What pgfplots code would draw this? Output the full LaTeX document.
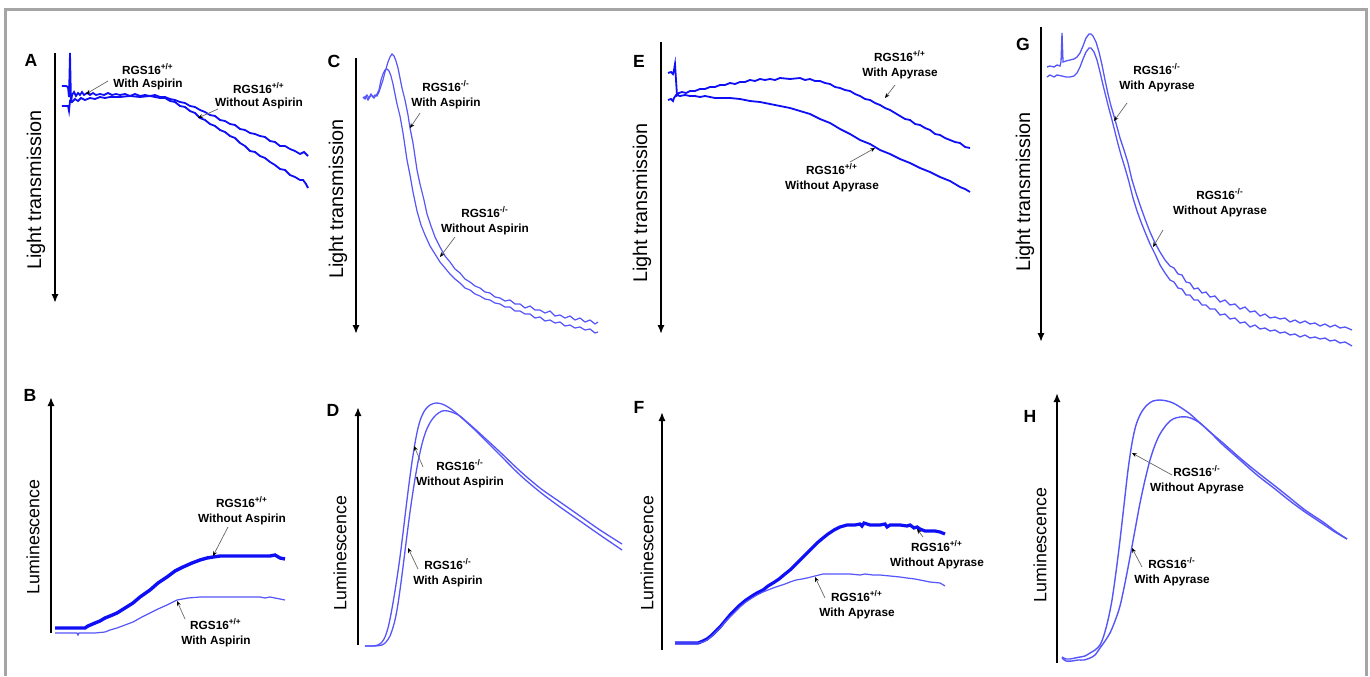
\documentclass[border=0pt]{standalone}
\usepackage{fontspec}
\setmainfont{Liberation Sans}
\usepackage{pgfplots}
\pgfplotsset{compat=1.18}
\usetikzlibrary{arrows.meta}

\definecolor{tb}{RGB}{15,15,245}
\definecolor{lb}{RGB}{85,85,250}
\definecolor{frame}{RGB}{165,165,165}

\newcommand{\LT}{\fontsize{9.9}{11}\selectfont}
\newcommand{\LU}{\fontsize{8.9}{10}\selectfont}
\newcommand{\RP}{RGS16\textsuperscript{+/+}}
\newcommand{\RM}{RGS16\textsuperscript{-/-}}

\pgfplotsset{
  panel/.style={scale only axis, clip=false, anchor=north west, y dir=reverse,
    axis x line=none, axis y line=left, xtick=\empty, ytick=\empty,
    y axis line style={line width=1pt}},
  down/.style={y axis line style={-{Latex[length=4.5pt,width=3.6pt]}}},
  up/.style={y axis line style={{Latex[length=4.5pt,width=3.6pt]}-}},
}
\tikzset{
  ann/.style={font=\fontsize{5.9}{7.4}\selectfont\bfseries, align=center, inner sep=0pt},
  pt/.style={draw=black!60, line width=0.35pt, -{Stealth[length=2.4pt,width=2pt,black]}},
  letter/.style={font=\fontsize{8.8}{10}\selectfont\bfseries},
}

\begin{document}
\begin{tikzpicture}
\useasboundingbox (0,0) rectangle (685pt,338pt);

% ---- A ----
\begin{axis}[panel, down, at={(27.5pt,311.5pt)}, width=127.5pt, height=125pt,
  xmin=55, xmax=310, ymin=53, ymax=303,
  ylabel={Light transmission},
  every axis y label/.style={at={(axis description cs:-0.0745,0.452)}, rotate=90, anchor=center, font=\LT}]
\addplot[tb, line width=0.9pt] coordinates {
(62,86) (66,86) (68,87) (69,97) (70,53) (71,103) (72,95) (74,92) (76,96) (78,93) (80,95) (82,92) (84,95) (87,93) (90,95) (93,93) (96,95) (100,94) (104,95) (108,93) (112,95) (116,94) (120,95) (125,94) (130,96) (135,94) (140,96) (145,95) (150,96) (155,95) (160,97) (165,97) (170,99) (175,100) (180,102) (185,103) (190,106) (195,107) (200,110) (205,112) (210,115) (215,116) (220,120) (225,121) (230,124) (235,125) (240,129) (245,130) (250,133) (255,134) (260,136) (265,137) (270,141) (275,142) (280,146) (285,146) (290,149) (295,151) (300,154) (304,152) (308,156)};
\addplot[tb, line width=0.9pt] coordinates {
(62,106) (66,106) (68,106) (69,111) (70,101) (72,102) (75,99) (78,101) (81,98) (85,100) (90,98) (95,99) (100,97) (105,98) (110,97) (120,97) (130,96) (140,97) (150,96) (160,98) (165,98) (170,101) (175,102) (180,106) (185,107) (190,111) (195,113) (200,118) (205,120) (210,124) (215,126) (220,130) (225,132) (230,136) (235,138) (240,143) (245,146) (250,151) (255,152) (260,156) (265,158) (270,162) (275,165) (280,169) (285,170) (290,175) (295,177) (300,180) (303,180) (306,184) (308,188)};
\node[letter] at (axis cs:31,60) {A};
\node[ann, font=\fontsize{5.9}{6.4}\selectfont\bfseries] at (axis cs:148,77) {\RP\\With Aspirin};
\draw[pt] (axis cs:108,81) -- (axis cs:86,94);
\node[ann, font=\fontsize{5.9}{6.4}\selectfont\bfseries] at (axis cs:259,96) {\RP\\Without Aspirin};
\draw[pt] (axis cs:218,109) -- (axis cs:198,118);
\end{axis}

% ---- B ----
\begin{axis}[panel, up, at={(25.5pt,139.5pt)}, width=119.5pt, height=118pt,
  xmin=51, xmax=290, ymin=397, ymax=633,
  ylabel={Luminescence},
  every axis y label/.style={at={(axis description cs:-0.075,0.407)}, rotate=90, anchor=center, font=\LU}]
\addplot[tb, line width=1.7pt] coordinates {
(55,628) (70,628) (85,628) (88,626) (95,623) (100,621) (105,618) (110,616) (117,613) (125,608) (133,603) (140,597) (150,590) (158,583) (167,577) (175,571) (183,567) (192,563) (200,560) (207,558) (213,557) (220,556) (240,556) (260,556) (270,556) (275,555) (280,558) (285,559)};
\addplot[lb, line width=0.6pt] coordinates {
(55,633) (65,633) (77,633) (78,635) (79,633) (95,633) (105,632) (110,630) (117,628) (125,625) (133,622) (142,617) (150,613) (158,609) (167,605) (177,600) (188,598) (200,597) (215,597) (233,597) (250,597) (260,597) (265,598) (270,597) (285,600)};
\node[letter] at (axis cs:30,395) {B};
\node[ann] at (axis cs:242,511) {\RP\\Without Aspirin};
\draw[pt] (axis cs:228,527) -- (axis cs:213,556);
\node[ann] at (axis cs:216,633) {\RP\\With Aspirin};
\draw[pt] (axis cs:185,619) -- (axis cs:177,601);
\end{axis}

% ---- C ----
\begin{axis}[panel, down, at={(178pt,309pt)}, width=122pt, height=138pt,
  xmin=356, xmax=600, ymin=58, ymax=334,
  ylabel={Light transmission},
  every axis y label/.style={at={(axis description cs:-0.074,0.489)}, rotate=90, anchor=center, font=\LT}]
\addplot[lb, line width=0.6pt] coordinates {
(363,97) (365,99) (367,95) (369,98) (371,94) (373,97) (375,95) (377,96) (379,92) (381,86) (383,80) (385,72) (388,62) (390,57) (392,54) (394,56) (396,61) (398,68) (400,78) (402,88) (405,100) (408,115) (410,128) (413,143) (417,170) (420,184) (424,200) (427,214) (431,226) (435,237) (440,247) (445,256) (450,262) (455,269) (460,273) (465,279) (470,282) (475,286) (480,288) (485,292) (490,293) (495,297) (500,298) (505,301) (510,300) (515,304) (520,304) (525,308) (530,306) (535,310) (540,310) (545,313) (550,311) (555,316) (560,315) (565,318) (570,316) (575,320) (580,318) (585,322) (590,320) (595,324) (598,322)};
\addplot[lb, line width=0.6pt] coordinates {
(363,98) (366,96) (368,100) (371,95) (374,98) (377,94) (379,90) (381,80) (383,74) (385,70) (387,69) (389,71) (391,76) (393,84) (395,94) (397,104) (400,116) (403,133) (407,160) (410,175) (413,192) (417,211) (421,225) (425,235) (430,246) (435,254) (440,262) (445,268) (450,274) (455,279) (460,283) (465,288) (470,290) (475,294) (480,296) (485,299) (490,300) (495,303) (500,304) (505,307) (510,307) (515,311) (520,311) (525,314) (530,314) (535,318) (540,317) (545,321) (550,320) (555,323) (560,322) (565,326) (570,325) (575,328) (580,327) (585,330) (590,329) (595,333) (598,332)};
\node[letter] at (axis cs:334,61) {C};
\node[ann] at (axis cs:446,95) {\RM\\With Aspirin};
\draw[pt] (axis cs:420,113) -- (axis cs:410,128);
\node[ann] at (axis cs:485,221) {\RM\\Without Aspirin};
\draw[pt] (axis cs:455,237) -- (axis cs:440,257);
\end{axis}

% ---- D ----
\begin{axis}[panel, up, at={(179pt,134.5pt)}, width=133.5pt, height=119pt,
  xmin=358, xmax=625, ymin=407, ymax=645,
  ylabel={Luminescence},
  every axis y label/.style={at={(axis description cs:-0.067,0.387)}, rotate=90, anchor=center, font=\LU}]
\addplot[lb, line width=0.65pt, smooth] coordinates {
(365,646) (372,646) (378,645) (382,642) (385,637) (388,628) (391,614) (394,597) (397,578) (400,557) (403,533) (406,508) (409,484) (412,462) (415,443) (418,428) (421,418) (425,410) (430,405) (436,403) (442,404) (448,407) (455,412) (463,419) (475,430) (487,442) (500,455) (520,475) (540,492) (560,507) (580,521) (600,535) (622,550)};
\addplot[lb, line width=0.65pt, smooth] coordinates {
(365,646) (375,646) (382,645) (386,642) (390,636) (394,624) (397,610) (400,590) (403,567) (406,543) (410,512) (414,485) (418,462) (422,444) (426,431) (431,421) (436,415) (442,411) (448,411) (454,413) (460,416) (467,422) (475,429) (487,440) (500,452) (520,471) (540,488) (560,502) (580,516) (600,530) (622,544)};
\node[letter] at (axis cs:333,410) {D};
\node[ann] at (axis cs:460,474) {\RM\\Without Aspirin};
\draw[pt] (axis cs:423,467) -- (axis cs:414,446);
\node[ann] at (axis cs:448,573) {\RM\\With Aspirin};
\draw[pt] (axis cs:418,569) -- (axis cs:408,548);
\end{axis}

% ---- E ----
\begin{axis}[panel, down, at={(330.5pt,317pt)}, width=155.5pt, height=146pt,
  xmin=661, xmax=972, ymin=42, ymax=334,
  ylabel={Light transmission},
  every axis y label/.style={at={(axis description cs:-0.061,0.449)}, rotate=90, anchor=center, font=\LT}]
\addplot[tb, line width=0.9pt] coordinates {
(668,73) (671,72) (673,74) (674,70) (675,64) (676,80) (677,95) (679,93) (682,92) (686,93) (690,91) (695,91) (700,89) (705,89) (710,87) (715,87) (720,85) (725,85) (730,83) (735,84) (740,82) (745,82) (750,80) (755,81) (760,79) (765,80) (770,79) (775,80) (780,78) (790,79) (800,78) (805,80) (810,79) (815,81) (820,81) (825,83) (830,84) (835,87) (840,88) (845,90) (850,91) (855,94) (860,96) (865,99) (870,100) (875,103) (880,105) (885,108) (890,110) (895,113) (900,116) (905,119) (910,120) (915,124) (920,125) (925,128) (930,130) (935,134) (940,135) (945,138) (950,140) (955,142) (960,143) (965,147) (970,148)};
\addplot[tb, line width=0.9pt] coordinates {
(668,100) (671,99) (673,101) (674,98) (676,95) (680,96) (685,95) (690,96) (695,96) (700,97) (705,96) (710,97) (715,98) (720,98) (730,98) (740,99) (750,101) (760,102) (770,104) (780,106) (790,108) (800,111) (810,114) (820,119) (830,123) (840,129) (850,134) (860,140) (870,144) (880,150) (890,154) (900,159) (910,163) (920,168) (930,172) (940,177) (950,181) (960,187) (965,189) (970,192)};
\node[letter] at (axis cs:639,61) {E};
\node[ann] at (axis cs:900,65) {\RP\\With Apyrase};
\draw[pt] (axis cs:895,85) -- (axis cs:885,98);
\node[ann] at (axis cs:832,178) {\RP\\Without Apyrase};
\draw[pt] (axis cs:850,162) -- (axis cs:875,148);
\end{axis}

% ---- F ----
\begin{axis}[panel, up, at={(331pt,132pt)}, width=143pt, height=119pt,
  xmin=662, xmax=948, ymin=412, ymax=650,
  ylabel={Luminescence},
  every axis y label/.style={at={(axis description cs:-0.052,0.408)}, rotate=90, anchor=center, font=\LU}]
\addplot[tb, line width=1.6pt] coordinates {
(675,643) (690,643) (698,643) (703,641) (707,639) (712,635) (716,631) (720,627) (725,621) (730,615) (735,610) (740,605) (746,600) (752,596) (757,593) (763,590) (768,586) (773,583) (779,579) (785,574) (790,570) (796,564) (802,558) (807,553) (812,548) (817,543) (823,538) (828,534) (834,530) (840,527) (847,525) (855,525) (860,524) (862,526) (864,523) (870,525) (880,525) (885,524) (887,527) (890,525) (900,525) (907,526) (910,525) (914,528) (917,527) (920,529) (925,531) (930,531) (935,531) (940,532) (945,534)};
\addplot[lb, line width=0.6pt] coordinates {
(675,643) (698,643) (703,642) (707,640) (712,636) (716,632) (720,628) (725,622) (730,617) (735,612) (740,607) (746,602) (752,598) (757,595) (763,592) (768,590) (773,588) (779,586) (785,584) (790,582) (796,580) (802,579) (807,578) (815,576) (823,574) (830,574) (840,574) (850,574) (860,575) (865,574) (873,575) (880,575) (890,576) (900,577) (907,578) (915,579) (920,580) (930,582) (940,583) (945,586)};
\node[letter] at (axis cs:639,407) {F};
\node[ann] at (axis cs:937,555) {\RP\\Without Apyrase};
\draw[pt] (axis cs:923,537) -- (axis cs:917,529);
\node[ann] at (axis cs:857,605) {\RP\\With Apyrase};
\draw[pt] (axis cs:825,598) -- (axis cs:815,577);
\end{axis}

% ---- G ----
\begin{axis}[panel, down, at={(520.5pt,324.5pt)}, width=157pt, height=157.5pt,
  xmin=1041, xmax=1355, ymin=27, ymax=342,
  ylabel={Light transmission},
  every axis y label/.style={at={(axis description cs:-0.051,0.476)}, rotate=90, anchor=center, font=\LT}]
\addplot[lb, line width=0.65pt] coordinates {
(1047,67) (1050,66) (1054,67) (1057,65) (1060,66) (1061,62) (1062,33) (1063,62) (1066,61) (1070,60) (1074,59) (1077,57) (1080,53) (1083,46) (1086,38) (1089,34) (1091,34) (1093,36) (1096,42) (1099,52) (1102,65) (1105,80) (1108,94) (1111,106) (1114,116) (1117,127) (1120,138) (1124,150) (1128,163) (1132,180) (1136,193) (1140,205) (1145,219) (1150,232) (1155,243) (1160,252) (1165,260) (1170,266) (1174,268) (1178,274) (1182,275) (1186,282) (1190,283) (1194,289) (1198,288) (1202,293) (1206,292) (1210,297) (1215,296) (1220,302) (1225,300) (1230,305) (1235,304) (1240,309) (1245,307) (1250,312) (1255,311) (1260,316) (1265,314) (1270,318) (1275,317) (1280,319) (1285,318) (1290,322) (1295,320) (1300,323) (1305,321) (1310,324) (1315,323) (1320,326) (1325,324) (1330,327) (1335,325) (1340,328) (1345,327) (1352,330)};
\addplot[lb, line width=0.65pt] coordinates {
(1047,77) (1050,75) (1054,77) (1057,75) (1062,76) (1066,77) (1070,77) (1074,76) (1077,73) (1080,67) (1083,59) (1086,52) (1089,48) (1091,48) (1094,52) (1097,60) (1100,72) (1103,85) (1106,97) (1109,109) (1112,120) (1115,132) (1118,144) (1121,155) (1125,168) (1129,182) (1133,198) (1137,211) (1141,222) (1145,232) (1150,244) (1155,254) (1160,265) (1165,273) (1170,280) (1174,282) (1178,288) (1182,289) (1186,295) (1190,295) (1194,300) (1198,300) (1202,305) (1206,305) (1210,309) (1215,309) (1220,315) (1225,314) (1230,319) (1235,318) (1240,323) (1245,322) (1250,327) (1255,325) (1260,329) (1265,328) (1270,331) (1275,330) (1280,333) (1285,332) (1290,335) (1295,334) (1300,337) (1305,335) (1310,338) (1315,337) (1320,339) (1325,338) (1330,341) (1335,340) (1340,343) (1345,342) (1352,346)};
\node[letter] at (axis cs:1023,44) {G};
\node[ann] at (axis cs:1157,78) {\RM\\With Apyrase};
\draw[pt] (axis cs:1127,103) -- (axis cs:1114,121);
\node[ann] at (axis cs:1220,203) {\RM\\Without Apyrase};
\draw[pt] (axis cs:1163,230) -- (axis cs:1153,247);
\end{axis}

% ---- H ----
\begin{axis}[panel, up, at={(528.5pt,141.5pt)}, width=146.5pt, height=135pt,
  xmin=1057, xmax=1350, ymin=393, ymax=663,
  ylabel={Luminescence},
  every axis y label/.style={at={(axis description cs:-0.058,0.437)}, rotate=90, anchor=center, font=\LU}]
\addplot[lb, line width=0.7pt, smooth] coordinates {
(1062,657) (1066,659) (1070,659) (1075,658) (1080,657) (1085,656) (1090,653) (1095,650) (1100,645) (1104,635) (1108,620) (1112,600) (1116,572) (1120,540) (1124,505) (1128,470) (1132,443) (1136,425) (1141,413) (1147,405) (1153,401) (1160,400) (1167,401) (1173,403) (1180,407) (1190,414) (1200,423) (1210,432) (1223,443) (1240,458) (1257,472) (1275,486) (1290,498) (1305,510) (1323,522) (1335,531) (1347,539)};
\addplot[lb, line width=0.7pt, smooth] coordinates {
(1062,658) (1066,661) (1072,661) (1078,660) (1084,660) (1090,658) (1095,655) (1100,648) (1105,641) (1110,633) (1115,621) (1120,606) (1125,583) (1130,557) (1135,530) (1140,503) (1145,480) (1150,460) (1155,445) (1160,434) (1167,424) (1173,419) (1180,417) (1187,417) (1193,419) (1200,423) (1210,432) (1223,445) (1240,460) (1257,475) (1275,489) (1290,501) (1305,512) (1323,524) (1335,532) (1347,539)};
\node[letter] at (axis cs:1030,416) {H};
\node[ann] at (axis cs:1197,480) {\RM\\Without Apyrase};
\draw[pt] (axis cs:1172,475) -- (axis cs:1132,453);
\node[ann] at (axis cs:1172,572) {\RM\\With Apyrase};
\draw[pt] (axis cs:1142,567) -- (axis cs:1132,548);
\end{axis}

% outer frame
\begin{scope}[x=0.5pt, y=-0.5pt, yshift=338pt]
\draw[frame, line width=1.5pt] (5,676) -- (5,10) -- (1366,10) -- (1366,676);
\end{scope}
\end{tikzpicture}
\end{document}
